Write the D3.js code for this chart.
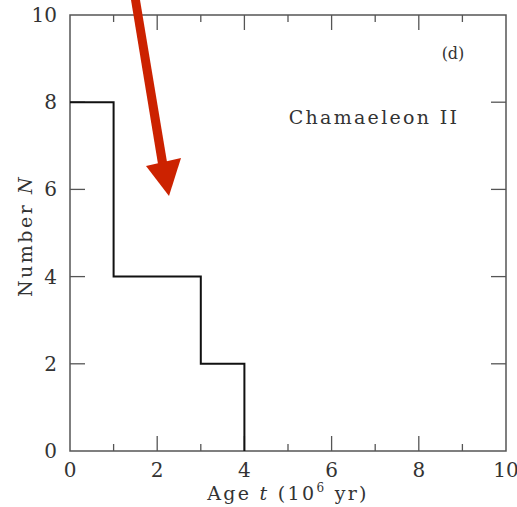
<!DOCTYPE html>
<html><head><meta charset="utf-8">
<script src="https://cdn.jsdelivr.net/npm/d3@7"></script>
<style>body{margin:0;background:#fff}svg{display:block}text{font-family:"DejaVu Serif",serif;fill:#333}</style>
</head><body><svg id="c" width="517" height="507"></svg>
<script>
const binEdges = [0, 1, 3, 4];
const binEnds = [1, 3, 4];
const counts = [8, 4, 2];
const xTicks = [0, 2, 4, 6, 8, 10];
const xMinorTicks = [1, 3, 5, 7, 9];
const yTicks = [0, 2, 4, 6, 8, 10];
const title = "Chamaeleon II";
const panel = "(d)";

const svg = d3.select("#c");
const L = 70, R = 506, T = 15, B = 451;
const x = d3.scaleLinear().domain([0, 10]).range([L, R]);
const y = d3.scaleLinear().domain([0, 10]).range([B, T]);
const axisColor = "#555";

// frame
svg.append("rect").attr("x", L).attr("y", T).attr("width", R - L).attr("height", B - T)
  .attr("fill", "none").attr("stroke", axisColor).attr("stroke-width", 1.5);

// ticks
const g = svg.append("g").attr("stroke", axisColor).attr("stroke-width", 1.3);
xTicks.slice(1, -1).forEach(v => {
  g.append("line").attr("x1", x(v)).attr("x2", x(v)).attr("y1", B).attr("y2", B - 15);
  g.append("line").attr("x1", x(v)).attr("x2", x(v)).attr("y1", T).attr("y2", T + 15);
});
xMinorTicks.forEach(v => {
  g.append("line").attr("x1", x(v)).attr("x2", x(v)).attr("y1", B).attr("y2", B - 7);
  g.append("line").attr("x1", x(v)).attr("x2", x(v)).attr("y1", T).attr("y2", T + 7);
});
yTicks.slice(1, -1).forEach(v => {
  g.append("line").attr("x1", L).attr("x2", L + 15).attr("y1", y(v)).attr("y2", y(v));
  g.append("line").attr("x1", R).attr("x2", R - 15).attr("y1", y(v)).attr("y2", y(v));
});

// tick labels
svg.selectAll(".xt").data(xTicks).enter().append("text")
  .attr("x", d => x(d)).attr("y", 477).attr("text-anchor", "middle")
  .attr("font-size", 20).text(d => d);
svg.selectAll(".yt").data(yTicks).enter().append("text")
  .attr("x", 57).attr("y", d => y(d) + 7).attr("text-anchor", "end")
  .attr("font-size", 20).text(d => d);

// histogram step line
const pts = [[0, counts[0]]];
counts.forEach((c, i) => { pts.push([binEdges[i], c]); pts.push([binEnds[i], c]); });
pts.push([binEnds[binEnds.length - 1], 0]);
svg.append("path").attr("d", d3.line().x(d => x(d[0])).y(d => y(d[1]))(pts))
  .attr("fill", "none").attr("stroke", "#111").attr("stroke-width", 2);

// labels
svg.append("text").attr("x", 374).attr("y", 124).attr("text-anchor", "middle")
  .attr("font-size", 19).attr("letter-spacing", 2.3).text(title);
svg.append("text").attr("x", 453).attr("y", 59).attr("text-anchor", "middle")
  .attr("font-size", 16).text(panel);

const xl = svg.append("text").attr("x", 288).attr("y", 500).attr("text-anchor", "middle")
  .attr("font-size", 19).attr("letter-spacing", 2.3);
xl.append("tspan").text("Age ");
xl.append("tspan").attr("font-style", "italic").text("t");
xl.append("tspan").text("  (10");
xl.append("tspan").attr("font-size", 12).attr("dy", -8).text("6");
xl.append("tspan").attr("dy", 8).text(" yr)");

const yl = svg.append("text").attr("transform", "translate(32,236) rotate(-90)")
  .attr("text-anchor", "middle").attr("font-size", 19).attr("letter-spacing", 2.5);
yl.append("tspan").text("Number  ");
yl.append("tspan").attr("font-style", "italic").text("N");

// red arrow annotation
const arrow = svg.append("g").attr("fill", "#cc2200").attr("stroke", "none");
arrow.append("path").attr("d", "M131,0 L140,0 L167,162 L158,164 Z");
arrow.append("path").attr("d", "M146,166 L181,158 L169,196 Z");
</script></body></html>
